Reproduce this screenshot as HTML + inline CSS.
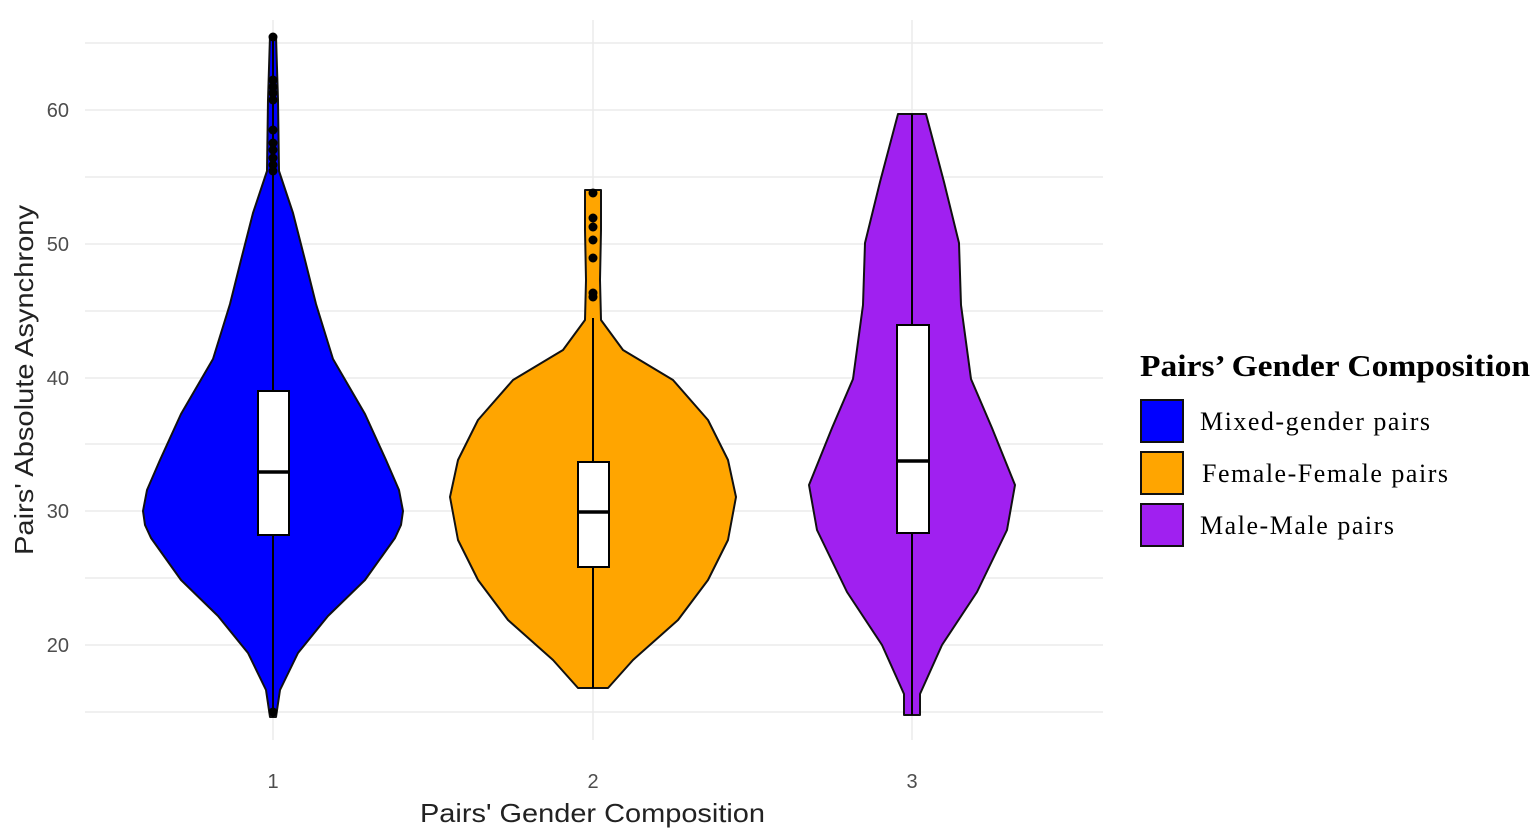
<!DOCTYPE html>
<html><head><meta charset="utf-8"><style>body{margin:0;background:#fff}svg{display:block}</style></head>
<body>
<svg width="1535" height="831" viewBox="0 0 1535 831" xmlns="http://www.w3.org/2000/svg">
<rect width="1535" height="831" fill="#fff"/>
<g stroke="#ebebeb" stroke-width="1.5">
<line x1="85" x2="1103" y1="43" y2="43"/><line x1="85" x2="1103" y1="110" y2="110"/>
<line x1="85" x2="1103" y1="177" y2="177"/><line x1="85" x2="1103" y1="244" y2="244"/>
<line x1="85" x2="1103" y1="311" y2="311"/><line x1="85" x2="1103" y1="378" y2="378"/>
<line x1="85" x2="1103" y1="444" y2="444"/><line x1="85" x2="1103" y1="511" y2="511"/>
<line x1="85" x2="1103" y1="578" y2="578"/><line x1="85" x2="1103" y1="645" y2="645"/>
<line x1="85" x2="1103" y1="712" y2="712"/>
<line x1="273" x2="273" y1="20" y2="740"/><line x1="593" x2="593" y1="20" y2="740"/><line x1="912" x2="912" y1="20" y2="740"/>
</g>
<g stroke="#111" stroke-width="2" stroke-linejoin="round">
<polygon fill="#0000ff" points="276,36 278,100 279,171 293,213 305,260 316,304 333,359 365,414 386,460 399,490 403,511 401,525 395,538 365,580 328,616 298,653 280,690 276,717 270,717 266,690 248,653 218,616 181,580 151,538 145,525 143,511 147,490 160,460 181,414 213,359 230,304 241,260 253,213 267,171 268,100 270,36"/>
<polygon fill="#ffa500" points="601,190 601,230 600,280 601,320 623,350 673,380 708,420 728,460 736,497 728,540 708,580 678,620 633,660 608,688 578,688 553,660 508,620 478,580 458,540 450,497 458,460 478,420 513,380 563,350 585,320 586,280 585,230 585,190"/>
<polygon fill="#a020f0" points="926,114 944,182 959,243 961,305 971,379 992,428 1015,485 1007,530 977,592 942,645 920,694 920,715 904,715 904,694 882,645 847,592 817,530 809,485 832,428 853,379 863,305 865,243 880,182 898,114"/>
</g>
<g stroke="#000" stroke-width="2">
<line x1="273" x2="273" y1="37" y2="717"/>
<line x1="593" x2="593" y1="318" y2="688"/>
<line x1="912" x2="912" y1="114" y2="715"/>
<rect x="258" y="391" width="31" height="144" fill="#fff"/>
<line x1="258" x2="289" y1="472" y2="472" stroke-width="3.5"/>
<rect x="578" y="462" width="31" height="105" fill="#fff"/>
<line x1="578" x2="609" y1="512" y2="512" stroke-width="3.5"/>
<rect x="897" y="325" width="32" height="208" fill="#fff"/>
<line x1="897" x2="929" y1="461" y2="461" stroke-width="3.5"/>
</g>
<g fill="#000">
<circle cx="273" cy="37" r="4.5"/><circle cx="273" cy="80" r="4.5"/><circle cx="273" cy="87" r="4.5"/><circle cx="273" cy="93" r="4.5"/><circle cx="273" cy="100" r="4.5"/><circle cx="273" cy="130" r="4.5"/><circle cx="273" cy="143" r="4.5"/><circle cx="273" cy="150" r="4.5"/><circle cx="273" cy="158" r="4.5"/><circle cx="273" cy="165" r="4.5"/><circle cx="273" cy="171" r="4.5"/><circle cx="273" cy="712" r="4.5"/>
<circle cx="593" cy="193" r="4.5"/><circle cx="593" cy="218" r="4.5"/><circle cx="593" cy="227" r="4.5"/><circle cx="593" cy="240" r="4.5"/><circle cx="593" cy="258" r="4.5"/><circle cx="593" cy="293" r="4.5"/><circle cx="593" cy="297" r="4.5"/>
</g>
<g font-family="Liberation Sans, sans-serif" font-size="20" fill="#4d4d4d">
<text x="69" y="117" text-anchor="end">60</text><text x="69" y="251" text-anchor="end">50</text>
<text x="69" y="385" text-anchor="end">40</text><text x="69" y="518" text-anchor="end">30</text>
<text x="69" y="652" text-anchor="end">20</text>
<text x="273" y="788" text-anchor="middle">1</text><text x="593" y="788" text-anchor="middle">2</text><text x="912" y="788" text-anchor="middle">3</text>
</g>
<g font-family="Liberation Sans, sans-serif" font-size="26" fill="#222">
<text x="420" y="822" textLength="345" lengthAdjust="spacingAndGlyphs">Pairs' Gender Composition</text>
<text transform="translate(33,555) rotate(-90)" textLength="350" lengthAdjust="spacingAndGlyphs">Pairs' Absolute Asynchrony</text>
</g>
<text x="1140" y="376" font-family="Liberation Serif, serif" font-size="31" font-weight="bold" fill="#000" textLength="390" lengthAdjust="spacingAndGlyphs">Pairs’ Gender Composition</text>
<g stroke="#111" stroke-width="2">
<rect x="1141" y="400" width="42" height="42" fill="#0000ff"/>
<rect x="1141" y="452" width="42" height="42" fill="#ffa500"/>
<rect x="1141" y="504" width="42" height="42" fill="#a020f0"/>
</g>
<g font-family="Liberation Serif, serif" font-size="26" fill="#000">
<text x="1200" y="430" textLength="230" lengthAdjust="spacing">Mixed-gender pairs</text>
<text x="1202" y="482" textLength="246" lengthAdjust="spacing">Female-Female pairs</text>
<text x="1200" y="534" textLength="194" lengthAdjust="spacing">Male-Male pairs</text>
</g>
</svg>
</body></html>
